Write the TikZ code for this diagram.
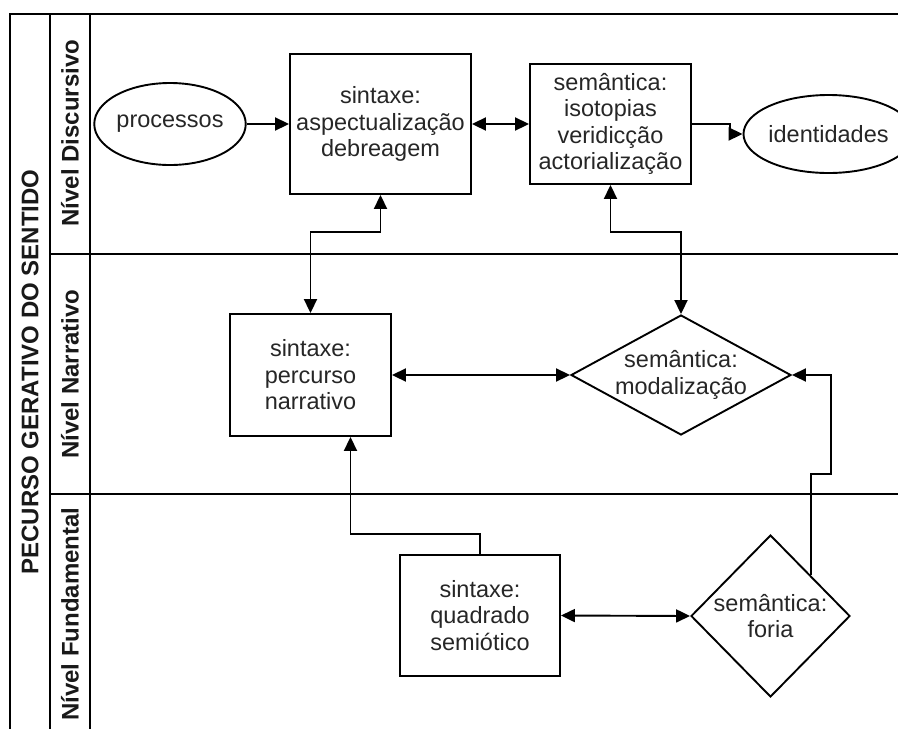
\documentclass[tikz,border=0pt]{standalone}
\usepackage{fontspec}
\setmainfont{Liberation Sans}
\usetikzlibrary{shapes.geometric,arrows.meta}
\begin{document}
\begin{tikzpicture}[x=1pt,y=-1pt,
  lane/.style={line width=1.9pt,draw=black},
  boxnode/.style={draw,line width=1.9pt,rectangle,inner sep=0pt,align=center,
    font=\fontsize{23.5}{26.5}\selectfont,text=black!85},
  ovalnode/.style={draw,line width=1.9pt,ellipse,inner sep=0pt,align=center,
    font=\fontsize{23.5}{26.5}\selectfont,text=black!85},
  decnode/.style={draw,line width=1.9pt,diamond,inner sep=0pt},
  txt/.style={align=center,font=\fontsize{23.5}{26.5}\selectfont,text=black!85},
  header/.style={rotate=90,font=\fontsize{24}{28}\selectfont\bfseries,text=black!90},
  tip/.tip={Triangle[length=14pt,width=13pt]},
  conn/.style={line width=1.9pt,-tip},
  bconn/.style={line width=1.9pt,tip-tip}
]
\useasboundingbox (0,0) rectangle (898,729);

% pool frame and lanes
\draw[lane] (10,729) -- (10,14) -- (898,14);
\draw[lane] (50,14) -- (50,729);
\draw[lane] (90,14) -- (90,729);
\draw[lane] (50,254) -- (898,254);
\draw[lane] (50,494) -- (898,494);

% pool and lane titles
\node[header] (pool) at (30,372) {PECURSO GERATIVO DO SENTIDO};
\node[header] (discursivo) at (70,133) {Nível Discursivo};
\node[header] (narrativo) at (70,374) {Nível Narrativo};
\node[header] (fundamental) at (70,614) {Nível Fundamental};

% discursive level
\node[ovalnode,minimum width=120pt,minimum height=82pt] (proc) at (170,124) {processos};
\node[boxnode,minimum width=181pt,minimum height=140pt] (asp) at (380.5,124)
  {sintaxe:\\aspectualização\\debreagem};
\node[boxnode,minimum width=161pt,minimum height=120pt] (iso) at (610.5,124)
  {semântica:\\isotopias\\veridicção\\actorialização};
\node[ovalnode,minimum width=137pt,minimum height=78pt] (ident) at (828.5,134) {identidades};

% narrative level
\node[boxnode,minimum width=161pt,minimum height=122pt] (perc) at (310.5,375)
  {sintaxe:\\percurso\\narrativo};
\node[decnode,minimum width=220pt,minimum height=120pt] (modal) at (681,375) {};
\node[txt] (modaltxt) at (681,375) {semântica:\\modalização};

% fundamental level
\node[boxnode,minimum width=160pt,minimum height=121pt] (quad) at (480,615.5)
  {sintaxe:\\quadrado\\semiótico};
\node[decnode,minimum width=159pt,minimum height=162pt] (foria) at (770.5,616) {};
\node[txt] (foriatxt) at (770.5,616) {semântica:\\foria};

% connectors
\draw[conn] (proc.east) -- (asp.west);
\draw[bconn] (asp.east) -- (iso.west);
\draw[conn] (iso.east) -- ++(38,0) |- (ident.west);
\draw[bconn] (perc.north) -- ++(0,-81) -| (asp.south);
\draw[bconn] (modal.north) -- ++(0,-82) -| (iso.south);
\draw[bconn] (perc.east) -- (modal.west);
\draw[conn] (quad.north) -- ++(0,-20) -| ([xshift=40pt]perc.south);
\draw[bconn] (quad.east) -- (foria.west);
\draw[conn] (foria.north east) -- ++(0,-101) -- ++(20,0) |- (modal.east);
\end{tikzpicture}
\end{document}
